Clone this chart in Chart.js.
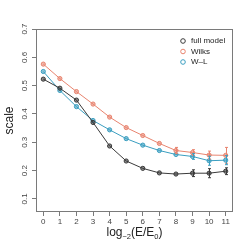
<!DOCTYPE html>
<html>
<head>
<meta charset="utf-8">
<script src="https://cdn.jsdelivr.net/npm/chart.js@4"></script>
<style>
  html, body { margin: 0; padding: 0; background: #fff; }
  #wrap { width: 249px; height: 249px; }
</style>
</head>
<body>
<div id="wrap"><canvas id="chart" width="249" height="249"></canvas></div>
<script>
const energySteps = [0, 1, 2, 3, 4, 5, 6, 7, 8, 9, 10, 11];
const yTicks = [0.1, 0.2, 0.3, 0.4, 0.5, 0.6, 0.7];

const fullModel = [0.523, 0.491, 0.449, 0.370, 0.287, 0.234, 0.208, 0.192, 0.188, 0.191, 0.191, 0.198];
const fullModelErr = [0.003, 0.004, 0.004, 0.004, 0.003, 0.003, 0.004, 0.006, 0.008, 0.012, 0.016, 0.012];
const wilks = [0.576, 0.525, 0.479, 0.435, 0.389, 0.352, 0.324, 0.296, 0.271, 0.264, 0.255, 0.254];
const wilksErr = [0.003, 0.003, 0.003, 0.003, 0.003, 0.004, 0.006, 0.008, 0.011, 0.010, 0.014, 0.028];
const wl = [0.550, 0.483, 0.426, 0.377, 0.344, 0.313, 0.290, 0.271, 0.257, 0.250, 0.235, 0.237];
const wlErr = [0.003, 0.003, 0.003, 0.003, 0.003, 0.004, 0.005, 0.008, 0.008, 0.010, 0.016, 0.016];

const seriesNames = ["full model", "Wilks", "W\u2013L"];
const colors = ["#3a3a3a", "#e8846f", "#3a9ec0"];
const fills = ["rgba(58,58,58,0.6)", "rgba(232,132,111,0.6)", "rgba(58,158,192,0.6)"];
const errors = [fullModelErr, wilksErr, wlErr];
const FONT = "'Liberation Sans', Arial, sans-serif";
const BOX = "#7a7a7a";

function makeSet(name, values, i) {
  return {
    label: name,
    data: energySteps.map((x, k) => ({ x, y: values[k] })),
    borderColor: colors[i],
    backgroundColor: fills[i],
    pointBackgroundColor: fills[i],
    pointBorderColor: colors[i],
    pointBorderWidth: 1,
    pointRadius: 2.1,
    borderWidth: 1,
    tension: 0
  };
}

const boxAndExtras = {
  id: "boxAndExtras",
  afterDatasetsDraw(chart) {
    const ctx = chart.ctx;
    const xs = chart.scales.x, ys = chart.scales.y;
    // error bars
    chart.data.datasets.forEach((ds, i) => {
      ctx.save();
      ctx.strokeStyle = colors[i];
      ctx.lineWidth = 1;
      ds.data.forEach((p, k) => {
        const e = errors[i][k];
        const px = Math.round(xs.getPixelForValue(p.x)) + 0.5;
        const top = ys.getPixelForValue(p.y + e);
        const bot = ys.getPixelForValue(p.y - e);
        if (bot - top < 5) return;
        ctx.beginPath();
        ctx.moveTo(px, top); ctx.lineTo(px, bot);
        ctx.moveTo(px - 1.5, top); ctx.lineTo(px + 1.5, top);
        ctx.moveTo(px - 1.5, bot); ctx.lineTo(px + 1.5, bot);
        ctx.stroke();
      });
      ctx.restore();
    });
  },
  afterDraw(chart) {
    const ctx = chart.ctx;
    const a = chart.chartArea;
    const ys = chart.scales.y;
    ctx.save();
    // box
    ctx.strokeStyle = BOX;
    ctx.lineWidth = 1;
    ctx.strokeRect(Math.round(a.left) + 0.5, Math.round(a.top) + 0.5,
      Math.round(a.right - a.left) - 1, Math.round(a.bottom - a.top) - 1);
    // y tick labels, rotated like R
    ctx.fillStyle = "#444";
    ctx.font = "8px " + FONT;
    ctx.textAlign = "center";
    ctx.textBaseline = "middle";
    yTicks.forEach(v => {
      const py = ys.getPixelForValue(v);
      ctx.save();
      ctx.translate(25, py);
      ctx.rotate(-Math.PI / 2);
      ctx.fillText(v.toFixed(1), 0, 0);
      ctx.restore();
    });
    // y title
    ctx.save();
    ctx.fillStyle = "#222";
    ctx.font = "12px " + FONT;
    ctx.translate(10, (a.top + a.bottom) / 2);
    ctx.rotate(-Math.PI / 2);
    ctx.fillText("scale", 0, 0);
    ctx.restore();
    // x title with subscripts
    const parts = [["log", 12, 0], ["\u22122", 7.5, 3], ["(E/E", 12, 0], ["0", 7.5, 3], [")", 12, 0]];
    let total = 0;
    parts.forEach(p => { ctx.font = p[1] + "px " + FONT; total += ctx.measureText(p[0]).width; });
    let cx = (a.left + a.right) / 2 - total / 2;
    ctx.fillStyle = "#222";
    ctx.textAlign = "left";
    ctx.textBaseline = "alphabetic";
    parts.forEach(p => {
      ctx.font = p[1] + "px " + FONT;
      ctx.fillText(p[0], cx, 236 + p[2]);
      cx += ctx.measureText(p[0]).width;
    });
    // legend
    ctx.font = "8px " + FONT;
    ctx.textBaseline = "middle";
    seriesNames.forEach((name, i) => {
      const ly = 41 + i * 10.5;
      ctx.strokeStyle = colors[i];
      ctx.beginPath();
      ctx.arc(183, ly, 2.3, 0, Math.PI * 2);
      ctx.stroke();
      ctx.fillStyle = "#222";
      ctx.fillText(name, 191, ly);
    });
    ctx.restore();
  }
};

new Chart(document.getElementById("chart"), {
  type: "line",
  data: {
    datasets: [
      makeSet(seriesNames[0], fullModel, 0),
      makeSet(seriesNames[1], wilks, 1),
      makeSet(seriesNames[2], wl, 2)
    ]
  },
  options: {
    responsive: false,
    animation: false,
    layout: { padding: { top: 29, right: 16, left: 0, bottom: 0 } },
    plugins: { legend: { display: false }, tooltip: { enabled: false } },
    scales: {
      x: {
        type: "linear",
        min: -0.44,
        max: 11.44,
        afterBuildTicks: s => { s.ticks = energySteps.map(v => ({ value: v })); },
        afterFit: s => { s.height = 37; },
        grid: { drawOnChartArea: false, drawTicks: true, tickLength: 4, color: BOX },
        border: { display: false },
        ticks: { font: { size: 8, family: FONT }, color: "#444", padding: 1, maxRotation: 0, autoSkip: false }
      },
      y: {
        type: "linear",
        min: 0.054,
        max: 0.7,
        afterBuildTicks: s => { s.ticks = yTicks.map(v => ({ value: v })); },
        afterFit: s => { s.width = 36; },
        grid: { drawOnChartArea: false, drawTicks: true, tickLength: 4, color: BOX },
        border: { display: false },
        ticks: { display: false }
      }
    }
  },
  plugins: [boxAndExtras]
});
</script>
</body>
</html>
